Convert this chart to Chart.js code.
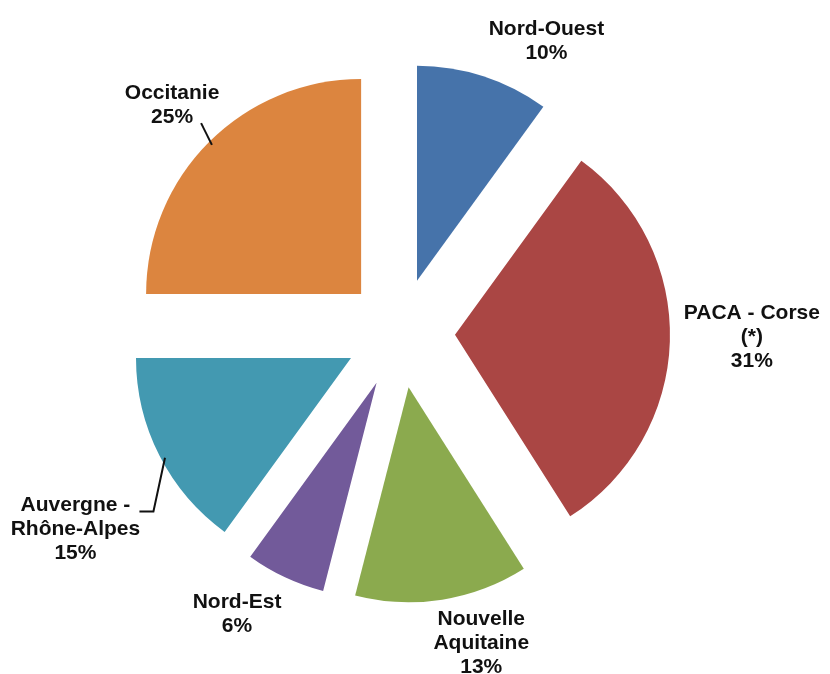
<!DOCTYPE html>
<html>
<head>
<meta charset="utf-8">
<script src="https://cdn.jsdelivr.net/npm/chart.js@4.4.0/dist/chart.umd.min.js"></script>
<style>
  body { margin: 0; background: #fff; }
</style>
</head>
<body>
<canvas id="myChart" width="830" height="674"></canvas>
<script>
// data
const regions = ["Nord-Ouest", "PACA - Corse (*)", "Nouvelle Aquitaine", "Nord-Est", "Auvergne - Rhône-Alpes", "Occitanie"];
const labelLines = [["Nord-Ouest"], ["PACA - Corse", "(*)"], ["Nouvelle", "Aquitaine"], ["Nord-Est"], ["Auvergne -", "Rhône-Alpes"], ["Occitanie"]];
const shares = [10, 31, 13, 6, 15, 25];
const colors = ['#4673AA', '#AA4644', '#8BAA4E', '#725A9A', '#4399B1', '#DC853F'];

// label placement, relative to the outer middle of each slice
const labelShift = [[63, -35], [82, -4], [39, 44], [-48, 37], [-84, 74], [-37, -37]];
const explodeDist = 55;

const explodePlugin = {
  id: 'explode',
  afterDatasetsUpdate(chart) {
    chart.getDatasetMeta(0).data.forEach(function(arc) {
      const mid = (arc.startAngle + arc.endAngle) / 2;
      arc.x += Math.cos(mid) * explodeDist;
      arc.y += Math.sin(mid) * explodeDist;
    });
  }
};

const labelPlugin = {
  id: 'sliceLabels',
  afterDraw(chart) {
    const ctx = chart.ctx;
    const total = shares.reduce((a, b) => a + b, 0);
    ctx.save();
    ctx.font = 'bold 21px "Liberation Sans", Arial, sans-serif';
    ctx.fillStyle = '#111';
    ctx.strokeStyle = '#111';
    ctx.lineWidth = 2;
    ctx.textAlign = 'center';
    ctx.textBaseline = 'middle';
    chart.getDatasetMeta(0).data.forEach(function(arc, i) {
      const mid = (arc.startAngle + arc.endAngle) / 2;
      const R = arc.outerRadius;
      const ox = arc.x + Math.cos(mid) * R;
      const oy = arc.y + Math.sin(mid) * R;
      const lines = labelLines[i].concat([Math.round(shares[i] / total * 100) + '%']);
      const cx = ox + labelShift[i][0];
      const cy = oy + labelShift[i][1];
      const lh = 24;
      const top = cy - (lines.length - 1) * lh / 2;
      lines.forEach(function(t, k) { ctx.fillText(t, cx, top + k * lh); });

      // leader lines
      const ex = arc.x + Math.cos(mid) * (R - 4);
      const ey = arc.y + Math.sin(mid) * (R - 4);
      if (i === 5) {
        ctx.beginPath();
        ctx.moveTo(cx + 29, cy + 18);
        ctx.lineTo(ex, ey);
        ctx.stroke();
      }
      if (i === 4) {
        ctx.beginPath();
        ctx.moveTo(cx + 64, cy - 18);
        ctx.lineTo(cx + 78, cy - 18);
        ctx.lineTo(ex + 2, ey + 4);
        ctx.stroke();
      }
    });
    ctx.restore();
  }
};

var ctx = document.getElementById('myChart').getContext('2d');
var chart = new Chart(ctx, {
  type: 'pie',
  data: {
    labels: regions,
    datasets: [{
      data: shares,
      backgroundColor: colors,
      borderWidth: 0
    }]
  },
  options: {
    responsive: false,
    animation: false,
    events: [],
    radius: 215,
    layout: { padding: { left: 0, right: 30, top: 0, bottom: 8 } },
    plugins: {
      legend: { display: false },
      tooltip: { enabled: false }
    }
  },
  plugins: [explodePlugin, labelPlugin]
});
</script>
</body>
</html>
